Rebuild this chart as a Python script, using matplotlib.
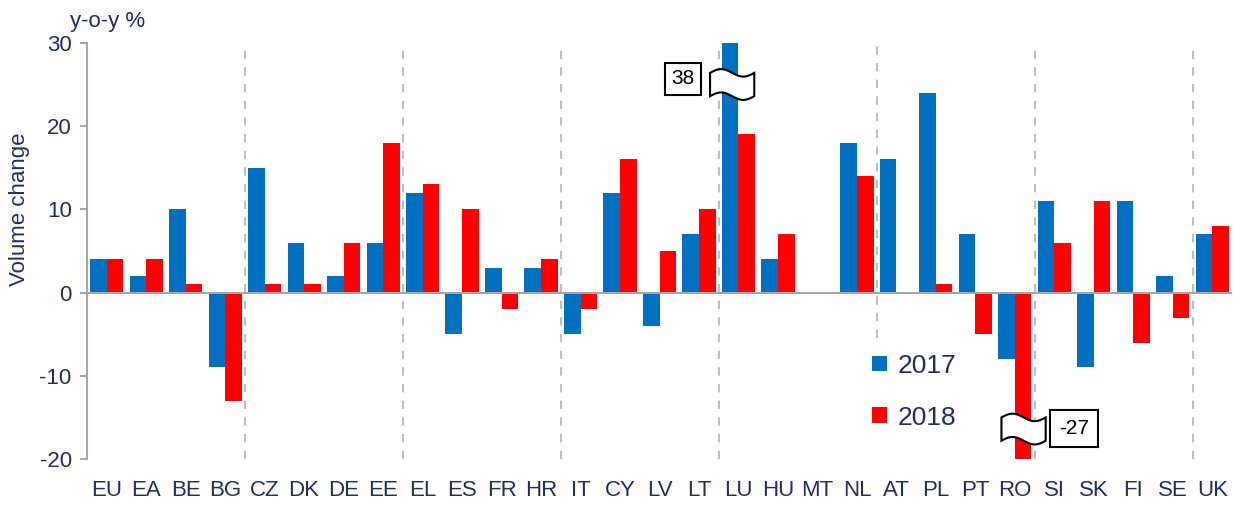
import numpy as np
import matplotlib
matplotlib.use("Agg")
from matplotlib import pyplot as plt
from matplotlib.patches import Polygon

plt.rcParams['font.family'] = ['Liberation Sans Narrow', 'Liberation Sans', 'DejaVu Sans']
plt.rcParams['axes.unicode_minus'] = False

countries = ['EU', 'EA', 'BE', 'BG', 'CZ', 'DK', 'DE', 'EE', 'EL', 'ES', 'FR', 'HR', 'IT', 'CY', 'LV',
             'LT', 'LU', 'HU', 'MT', 'NL', 'AT', 'PL', 'PT', 'RO', 'SI', 'SK', 'FI', 'SE', 'UK']
vol2017 = [4, 2, 10, -9, 15, 6, 2, 6, 12, -5, 3, 3, -5, 12, -4,
           7, 38, 4, np.nan, 18, 16, 24, 7, -8, 11, -9, 11, 2, 7]
vol2018 = [4, 4, 1, -13, 1, 1, 6, 18, 13, 10, -2, 4, -2, 16, 5,
           10, 19, 7, np.nan, 14, np.nan, 1, -5, -27, 6, 11, -6, -3, 8]
group_breaks = [3.5, 7.5, 11.5, 15.5, 19.5, 23.5, 27.5]

blue = '#0070C0'
red = '#FF0000'
navy = '#1F2F66'
grey = '#A6A6A6'

fig = plt.figure(figsize=(12.42, 5.05), dpi=100)
ax = fig.add_axes([0.070, 0.091, 0.922, 0.824])

x = np.arange(len(countries))
w = 0.42
ax.bar(x - w / 2, vol2017, w, color=blue, label='2017', zorder=2)
ax.bar(x + w / 2, vol2018, w, color=red, label='2018', zorder=2)

ax.set_xlim(-0.5, len(countries) - 0.5)
ax.set_ylim(-20, 30)

# dashed separators between country groups
for b in group_breaks:
    lo = -5.5 if b == 19.5 else -20
    ax.plot([b, b], [lo, 30], color='#BFBFBF', lw=1.5, ls=(0, (4, 4)), zorder=1)

ax.axhline(0, color=grey, lw=1.5, zorder=3)

for s in ['top', 'right', 'bottom']:
    ax.spines[s].set_visible(False)
ax.spines['left'].set_color(grey)
ax.spines['left'].set_linewidth(1.5)

ax.set_yticks([-20, -10, 0, 10, 20, 30])
ax.tick_params(axis='y', colors=grey, labelcolor=navy, labelsize=16, length=5, width=1.5, pad=6)
ax.set_xticks(x)
ax.set_xticklabels(countries)
ax.tick_params(axis='x', length=0, labelcolor=navy, labelsize=16, pad=15)

ax.set_ylabel('Volume change', color=navy, fontsize=16)
ax.yaxis.set_label_coords(-0.05, 0.6)
fig.text(0.056, 0.937, 'y-o-y %', color=navy, fontsize=16, ha='left', va='bottom')


def flag(xc, yc, fw=1.12, fh=2.8, amp=0.45):
    t = np.linspace(0, 1, 40)
    xs = xc - fw / 2 + t * fw
    top = yc + fh / 2 + amp * np.sin(2 * np.pi * t)
    bot = yc - fh / 2 + amp * np.sin(2 * np.pi * t)
    pts = np.vstack([np.column_stack([xs, top]), np.column_stack([xs[::-1], bot[::-1]])])
    ax.add_patch(Polygon(pts, closed=True, facecolor='white', edgecolor='black',
                         lw=1.5, zorder=5, clip_on=False))


# LU 2017 off the scale
flag(15.84, 25.0)
ax.text(14.6, 25.7, '38', ha='center', va='center', fontsize=15, zorder=6,
        bbox=dict(boxstyle='square,pad=0.32', facecolor='white', edgecolor='black', lw=1.5))
# RO 2018 off the scale
flag(23.22, -16.4)
ax.text(24.5, -16.3, '-27', ha='center', va='center', fontsize=15, zorder=6,
        bbox=dict(boxstyle='square,pad=0.42', facecolor='white', edgecolor='black', lw=1.5))

leg = ax.legend(loc='upper left', bbox_to_anchor=(0.665, 0.31), frameon=False, fontsize=19,
                handlelength=0.55, handleheight=0.55, handletextpad=0.4, labelspacing=1.05)
for t in leg.get_texts():
    t.set_color(navy)

plt.savefig('out.png', dpi=100)
